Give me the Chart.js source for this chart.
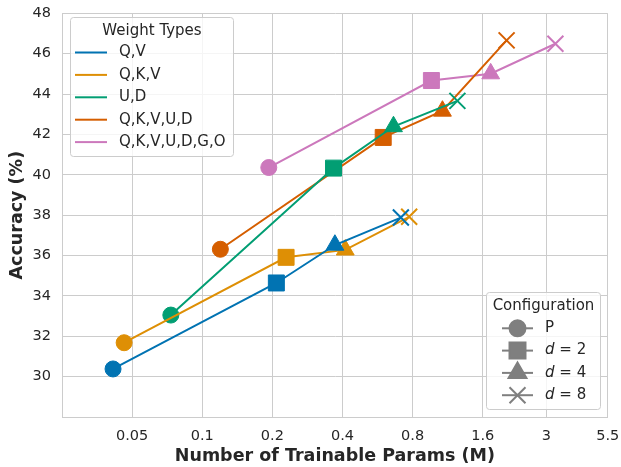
<!DOCTYPE html>
<html>
<head>
<meta charset="utf-8">
<script src="https://cdn.jsdelivr.net/npm/chart.js@4.4.1/dist/chart.umd.min.js"></script>
<style>
  html, body { margin: 0; padding: 0; background: #fff; }
  #wrap { width: 621px; height: 467px; }
</style>
</head>
<body>
<div id="wrap"><canvas id="chart" width="621" height="467"></canvas></div>
<script>
// data (x = trainable params in M, y = accuracy %)
const weightTypes = ["Q,V", "Q,K,V", "U,D", "Q,K,V,U,D", "Q,K,V,U,D,G,O"];
const configLabels = ["P", "d = 2", "d = 4", "d = 8"];
const xTicks = [0.05, 0.1, 0.2, 0.4, 0.8, 1.6, 3, 5.5];
const yTicks = [30, 32, 34, 36, 38, 40, 42, 44, 46, 48];

const paramsQV = [0.0414, 0.208, 0.371, 0.712];
const accQV = [30.38, 34.64, 36.52, 37.88];
const paramsQKV = [0.0462, 0.229, 0.411, 0.773];
const accQKV = [31.68, 35.91, 36.28, 37.92];
const paramsUD = [0.0733, 0.366, 0.662, 1.245];
const accUD = [33.05, 40.33, 42.39, 43.66];
const paramsQKVUD = [0.1196, 0.598, 1.074, 2.025];
const accQKVUD = [36.31, 41.85, 43.16, 46.66];
const paramsAll = [0.193, 0.963, 1.73, 3.28];
const accAll = [40.36, 44.67, 45.01, 46.49];

const colors = ["#0173b2", "#de8f05", "#029e73", "#d55e00", "#cc78bc"];
const markers = ["circle", "rect", "triangle", "crossRot"];
const markerRadius = [8, 11.3, 10.3, 11.3];
const markerBorder = [1, 1, 1, 2];
const gray = "#7f7f7f";
const textColor = "#262626";
const gridColor = "#cccccc";
const font = "DejaVu Sans";

const allParams = [paramsQV, paramsQKV, paramsUD, paramsQKVUD, paramsAll];
const allAcc = [accQV, accQKV, accUD, accQKVUD, accAll];

const datasets = weightTypes.map((name, i) => ({
  label: name,
  data: allParams[i].map((p, j) => ({ x: p, y: allAcc[i][j] })),
  borderColor: colors[i],
  backgroundColor: colors[i],
  borderWidth: 2,
  pointStyle: markers,
  pointRadius: markerRadius,
  pointBorderWidth: markerBorder,
  pointBackgroundColor: colors[i],
  pointBorderColor: colors[i],
  fill: false,
  tension: 0
}));

function legendBox(ctx, x0, y0, x1, y1) {
  ctx.save();
  ctx.beginPath();
  ctx.roundRect(x0, y0, x1 - x0, y1 - y0, 3);
  ctx.fillStyle = "rgba(255,255,255,0.8)";
  ctx.fill();
  ctx.strokeStyle = gridColor;
  ctx.lineWidth = 1;
  ctx.stroke();
  ctx.restore();
}

const legendsPlugin = {
  id: "legends",
  afterDraw(chart) {
    const ctx = chart.ctx;
    ctx.save();
    ctx.textBaseline = "middle";

    // Weight Types legend
    legendBox(ctx, 70.5, 17.5, 233.5, 156.5);
    ctx.font = "15px " + font;
    ctx.fillStyle = textColor;
    ctx.textAlign = "center";
    ctx.fillText("Weight Types", 152, 31);
    ctx.textAlign = "left";
    weightTypes.forEach((name, i) => {
      const y = 52.5 + i * 22.4;
      ctx.strokeStyle = colors[i];
      ctx.lineWidth = 2;
      ctx.beginPath();
      ctx.moveTo(75, y);
      ctx.lineTo(107, y);
      ctx.stroke();
      ctx.fillStyle = textColor;
      ctx.fillText(name, 119, y);
    });

    // Configuration legend
    legendBox(ctx, 486.5, 292.5, 600.5, 409.5);
    ctx.textAlign = "center";
    ctx.fillText("Configuration", 543.5, 306);
    ctx.textAlign = "left";
    configLabels.forEach((lab, i) => {
      const y = 328.3 + i * 22.3;
      ctx.strokeStyle = gray;
      ctx.fillStyle = gray;
      ctx.lineWidth = 2;
      ctx.beginPath();
      ctx.moveTo(502, y);
      ctx.lineTo(533, y);
      ctx.stroke();
      Chart.helpers.drawPoint(ctx, {
        pointStyle: markers[i],
        radius: markerRadius[i],
        rotation: 0,
        borderWidth: markerBorder[i]
      }, 517.5, y);
      ctx.fillStyle = textColor;
      if (lab === "P") {
        ctx.font = "15px " + font;
        ctx.fillText(lab, 545, y);
      } else {
        ctx.font = "italic 15px " + font;
        ctx.fillText("d", 545, y);
        const w = ctx.measureText("d").width;
        ctx.font = "15px " + font;
        ctx.fillText(lab.slice(1), 545 + w, y);
      }
    });
    ctx.restore();
  }
};

new Chart(document.getElementById("chart"), {
  type: "line",
  data: { datasets },
  plugins: [legendsPlugin],
  options: {
    responsive: false,
    animation: false,
    devicePixelRatio: 1,
    layout: { padding: { top: 10, right: 13, left: 0, bottom: 0 } },
    plugins: { legend: { display: false }, tooltip: { enabled: false } },
    scales: {
      x: {
        type: "logarithmic",
        min: 0.025,
        max: 5.5,
        afterBuildTicks: s => { s.ticks = xTicks.map(v => ({ value: v })); },
        afterFit: s => { s.height = 50; s.paddingLeft = 0; s.paddingRight = 0; },
        grid: { color: gridColor, lineWidth: 1, drawTicks: false },
        border: { color: gridColor, width: 1 },
        ticks: {
          padding: 11,
          color: textColor,
          font: { family: font, size: 14.5 },
          maxRotation: 0,
          autoSkip: false,
          callback: v => String(v)
        },
        title: {
          display: true,
          text: "Number of Trainable Params (M)",
          color: textColor,
          font: { family: font, size: 17.5, weight: "bold" },
          padding: { top: 0, bottom: 0 }
        }
      },
      y: {
        min: 28,
        max: 48,
        afterBuildTicks: s => { s.ticks = yTicks.map(v => ({ value: v })); },
        afterFit: s => { s.width = 62; s.paddingTop = 0; s.paddingBottom = 0; },
        grid: { color: gridColor, lineWidth: 1, drawTicks: false },
        border: { color: gridColor, width: 1 },
        ticks: {
          padding: 11,
          color: textColor,
          font: { family: font, size: 14.5 }
        },
        title: {
          display: true,
          text: "Accuracy (%)",
          color: textColor,
          font: { family: font, size: 17.5, weight: "bold" },
          padding: { top: 7, bottom: 0 }
        }
      }
    }
  }
});
</script>
</body>
</html>
